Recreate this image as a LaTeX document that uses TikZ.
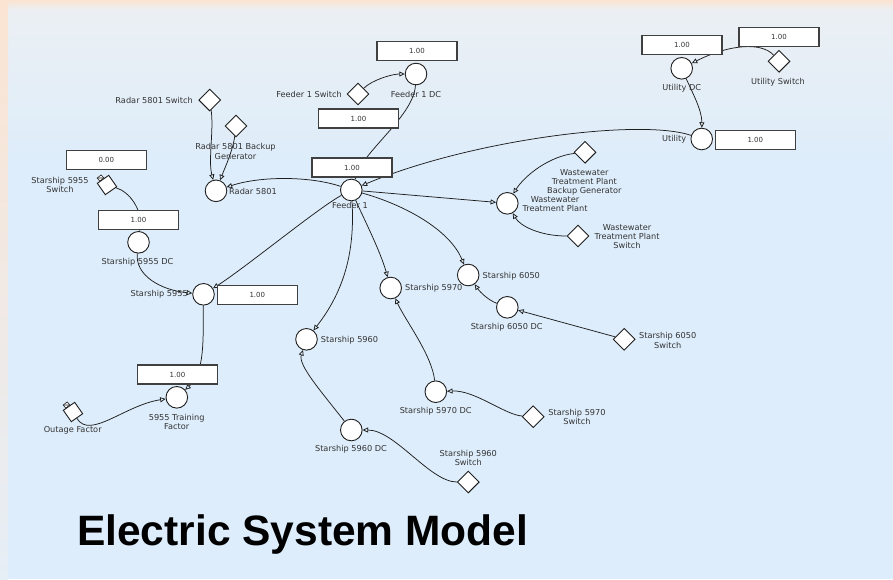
\documentclass[tikz,border=0pt]{standalone}
\usepackage{fontspec}
\setmainfont{DejaVu Sans}
\newfontfamily\titlefont{Liberation Sans}
\usetikzlibrary{arrows.meta,shapes.geometric}

\definecolor{bgblue}{HTML}{DDEDFB}
\definecolor{bgtop}{HTML}{EBEFF3}
\definecolor{peach}{HTML}{FBE4D2}
\definecolor{edgelow}{HTML}{E6EEF6}
\definecolor{ink}{HTML}{1E1E1E}
\definecolor{labelgray}{HTML}{333333}

\tikzset{
  stock/.style={circle, draw=ink, fill=white, line width=0.9pt, minimum size=21.6pt, inner sep=0pt},
  switchnode/.style={diamond, draw=ink, fill=white, line width=0.9pt, minimum width=22pt, minimum height=22pt, inner sep=0pt},
  valbox/.style={rectangle, draw=ink!85, fill=white, line width=1.1pt, minimum width=80pt, minimum height=19pt, inner sep=0pt, font=\fontsize{7}{8}\selectfont, text=labelgray},
  lbl/.style={font=\fontsize{8.2}{9.2}\selectfont, text=labelgray, align=center, inner sep=0pt},
  link/.style={draw=ink, line width=0.75pt, -{Triangle[open, length=5.5pt, width=5pt]}},
  tag/.style={draw=ink, fill=white, line width=0.6pt, minimum width=5pt, minimum height=4pt, inner sep=0pt, rotate=40},
}

\begin{document}
\begin{tikzpicture}[x=1pt, y=-1pt]
\useasboundingbox (0,0) rectangle (893,579);

% backdrop
\fill[bgblue] (0,0) rectangle (893,579);
\shade[top color=bgtop, bottom color=bgblue] (0,8) rectangle (893,170);
\shade[top color=peach, bottom color=bgtop] (0,0) rectangle (893,10);
\shade[top color=peach, bottom color=edgelow] (0,0) rectangle (8,579);

% stocks and switches
\node[stock] (f1dc) at (416,74) {};
\node[switchnode] (f1sw) at (358,94) {};
\node[stock] (f1) at (351.3,190) {};
\node[switchnode] (r5801sw) at (209.7,100) {};
\node[switchnode] (r5801bg) at (236,126) {};
\node[stock] (r5801) at (216,190.8) {};
\node[switchnode, rotate=-10, minimum width=20pt, minimum height=20pt] (s5955sw) at (107,185) {};
\node[stock] (s5955dc) at (138.5,242.3) {};
\node[stock] (s5955) at (203.5,294.3) {};
\node[stock] (tf) at (176.8,397.3) {};
\node[switchnode, rotate=-10, minimum width=20pt, minimum height=20pt] (of) at (73,412) {};
\node[stock] (udc) at (681.7,68.3) {};
\node[switchnode] (usw) at (779,61.3) {};
\node[stock] (u) at (701.7,139) {};
\node[stock] (wtp) at (507.3,203.3) {};
\node[switchnode] (wtpbg) at (585,152.3) {};
\node[switchnode] (wtpsw) at (578,236) {};
\node[stock] (s6050) at (468.2,275) {};
\node[stock] (s6050dc) at (507.3,307.3) {};
\node[switchnode] (s6050sw) at (624.2,339.3) {};
\node[stock] (s5970) at (390.7,288) {};
\node[stock] (s5970dc) at (435.8,391.7) {};
\node[switchnode] (s5970sw) at (533.2,416.7) {};
\node[stock] (s5960) at (306.5,339.3) {};
\node[stock] (s5960dc) at (351.3,430) {};
\node[switchnode] (s5960sw) at (468.3,482) {};

% small tags on the two tilted switches
\node[tag] (s5955tag) at ([shift={(-6.5,-7)}]s5955sw.center) {};
\draw[ink, line width=0.6pt] (s5955tag.north west) -- (s5955tag.south east);
\node[tag] (oftag) at ([shift={(-6.5,-7)}]of.center) {};
\draw[ink, line width=0.6pt] (oftag.north west) -- (oftag.south east);

% links
\draw[link] (f1sw) .. controls (372,80) and (392,74) .. (f1dc);
\draw[link] (f1dc) .. controls (414,115) and (365,150) .. (f1);
\draw[link] (u) .. controls (640,118) and (470,140) .. (f1);
\draw[link] (f1) .. controls (310,176) and (260,176) .. (r5801);
\draw[link] (r5801sw) .. controls (214,130) and (208,160) .. (r5801);
\draw[link] (r5801bg) .. controls (233,150) and (226,165) .. (r5801);
\draw[link] (f1) -- (wtp);
\draw[link] (wtpbg) .. controls (550,156) and (525,175) .. (wtp);
\draw[link] (wtpsw) .. controls (540,236) and (520,226) .. (wtp);
\draw[link] (f1) .. controls (405,205) and (450,230) .. (s6050);
\draw[link] (f1) .. controls (362,215) and (380,250) .. (s5970);
\draw[link] (f1) .. controls (355,250) and (345,290) .. (s5960);
\draw[link] (f1) .. controls (318,208) and (245,268) .. (s5955);
\draw[link] (s5955sw) .. controls (130,192) and (142,210) .. (s5955dc);
\draw[link] (s5955dc) .. controls (135,275) and (160,290) .. (s5955);
\draw[link] (s5955) .. controls (203,340) and (205,372) .. (tf);
\draw[link] (of) .. controls (90,440) and (125,405) .. (tf);
\draw[link] (usw) .. controls (762,42) and (730,44) .. (udc);
\draw[link] (udc) .. controls (692,92) and (702,110) .. (u);
\draw[link] (s6050dc) .. controls (488,300) and (480,292) .. (s6050);
\draw[link] (s6050sw) -- (s6050dc);
\draw[link] (s5970dc) .. controls (432,355) and (405,320) .. (s5970);
\draw[link] (s5970sw) .. controls (505,415) and (475,390) .. (s5970dc);
\draw[link] (s5960dc) .. controls (320,390) and (298,365) .. (s5960);
\draw[link] (s5960sw) .. controls (430,482) and (395,430) .. (s5960dc);

% value boxes
\node[valbox] (bf1dc) at (417,51) {1.00};
\node[valbox] (bf1sw) at (358.5,118.5) {1.00};
\node[valbox] (bf1) at (352,167.5) {1.00};
\node[valbox] (budc) at (682,45) {1.00};
\node[valbox] (busw) at (779,37) {1.00};
\node[valbox] (bu) at (755.3,140) {1.00};
\node[valbox] (bs5955sw) at (106.3,160) {0.00};
\node[valbox] (bs5955dc) at (138.5,220) {1.00};
\node[valbox] (bs5955) at (257.3,295) {1.00};
\node[valbox] (btf) at (177.5,374.5) {1.00};

% labels
\node[lbl] (lf1dc) at (416,94.5) {Feeder 1 DC};
\node[lbl, anchor=east] (lf1sw) at (342,94) {Feeder 1 Switch};
\node[lbl] (lf1) at (350,205.5) {Feeder 1};
\node[lbl, anchor=east] (lr5801sw) at (193,100) {Radar 5801 Switch};
\node[lbl] (lr5801bg) at (235.5,151.5) {Radar 5801 Backup\\Generator};
\node[lbl, anchor=west] (lr5801) at (229,191) {Radar 5801};
\node[lbl] (ls5955sw) at (60,185) {Starship 5955\\Switch};
\node[lbl] (ls5955dc) at (137.5,262.3) {Starship 5955 DC};
\node[lbl, anchor=east] (ls5955) at (188,294.5) {Starship 5955};
\node[lbl] (ltf) at (176.7,422.3) {5955 Training\\Factor};
\node[lbl] (lof) at (72.7,430.7) {Outage Factor};
\node[lbl] (ludc) at (681.7,88.3) {Utility DC};
\node[lbl] (lusw) at (778,82) {Utility Switch};
\node[lbl, anchor=east] (lu) at (686.5,139) {Utility};
\node[lbl] (lwtp) at (555,204.3) {Wastewater\\Treatment Plant};
\node[lbl] (lwtpbg) at (584.3,182.3) {Wastewater\\Treatment Plant\\Backup Generator};
\node[lbl] (lwtpsw) at (627,236.7) {Wastewater\\Treatment Plant\\Switch};
\node[lbl, anchor=west] (ls6050) at (482.5,276) {Starship 6050};
\node[lbl, anchor=west] (ls5970) at (405,288.7) {Starship 5970};
\node[lbl, anchor=west] (ls5960) at (320.7,340) {Starship 5960};
\node[lbl] (ls6050dc) at (506.7,327.3) {Starship 6050 DC};
\node[lbl] (ls6050sw) at (667.7,340.5) {Starship 6050\\Switch};
\node[lbl] (ls5970dc) at (435.7,411) {Starship 5970 DC};
\node[lbl] (ls5970sw) at (577,417) {Starship 5970\\Switch};
\node[lbl] (ls5960dc) at (351,449) {Starship 5960 DC};
\node[lbl] (ls5960sw) at (468.3,457.8) {Starship 5960\\Switch};

% heading
\node[anchor=base west, inner sep=0pt, font=\titlefont\bfseries\fontsize{42.5}{48}\selectfont] (title) at (77,545) {Electric System Model};
\end{tikzpicture}
\end{document}
